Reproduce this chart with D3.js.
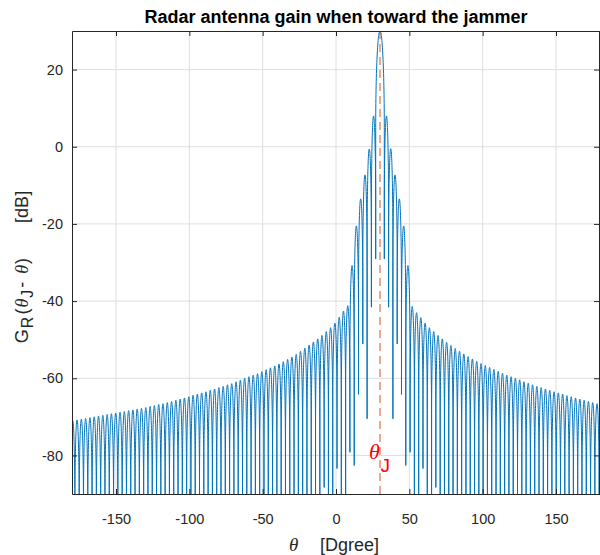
<!DOCTYPE html>
<html>
<head>
<meta charset="utf-8">
<script src="https://cdn.jsdelivr.net/npm/d3@7"></script>
<style>
    body { margin: 0; background: #fff; }
    text { font-family: "Liberation Sans", Arial, Helvetica, sans-serif; }
</style>
</head>
<body>
<svg id="chart"></svg>
<script>
const width = 600, height = 555;
const plot = { left: 72, right: 600, top: 31, bottom: 494 };

// values
const jammerDeg = 30;        // main lobe direction
const mainPeakDb = 30;       // main lobe top
const lobeStepDeg = 2.93;    // null to null spacing of the side lobes

// side lobe tops, counted outward from the main lobe
const leftPeakDb = [8.0, -0.6, -7.3, -13.5, -20.5, -30.8, -41.2, -42.6, -44.2, -45.7,
    -46.9, -47.9, -48.9, -49.8, -50.6, -51.4, -52.2, -53.0, -53.8, -54.5,
    -55.1, -55.7, -56.3, -56.8, -57.3, -57.8, -58.3, -58.8, -59.2, -59.6,
    -60.0, -60.5, -60.9, -61.4, -61.7, -62.1, -62.4, -62.8, -63.1, -63.5,
    -63.8, -64.1, -64.4, -64.8, -65.1, -65.4, -65.7, -66.0, -66.3, -66.6,
    -66.8, -67.1, -67.3, -67.6, -67.8, -68.0, -68.2, -68.4, -68.6, -68.8,
    -69.0, -69.2, -69.4, -69.6, -69.8, -70.0, -70.2, -70.4, -70.6, -70.8,
    -71.0, -71.2];
const rightPeakDb = [8.0, -0.5, -7.3, -13.5, -20.5, -30.8, -41.4, -43.0, -44.3, -45.7,
    -46.9, -47.9, -48.9, -49.8, -50.7, -51.5, -52.3, -53.0, -53.7, -54.4,
    -55.0, -55.6, -56.2, -56.7, -57.2, -57.7, -58.2, -58.7, -59.2, -59.6,
    -60.0, -60.4, -60.9, -61.3, -61.7, -62.1, -62.4, -62.8, -63.1, -63.5,
    -63.8, -64.1, -64.5, -64.8, -65.1, -65.4, -65.7, -66.0, -66.3, -66.6,
    -66.8];
// depth of the nulls that stay above the axis floor (null = below -90)
const nullDepthDb = [-29.1, -41.6, -70.5, -51.1, -64.2, -82.6, -79.2, null, null, -83.4,
    null, null, -88.3];

const xTicks = [-150, -100, -50, 0, 50, 100, 150];
const yTicks = [-80, -60, -40, -20, 0, 20];

const x = d3.scaleLinear().domain([-180, 180]).range([plot.left, plot.right]);
const y = d3.scaleLinear().domain([-90, 30]).range([plot.bottom, plot.top]);

const svg = d3.select("#chart")
    .attr("width", width)
    .attr("height", height);

svg.append("rect").attr("width", width).attr("height", height).attr("fill", "#fff");

svg.append("clipPath").attr("id", "clip")
    .append("rect")
    .attr("x", plot.left).attr("y", plot.top)
    .attr("width", plot.right - plot.left).attr("height", plot.bottom - plot.top);

// grid
const grid = svg.append("g").attr("stroke", "#dedede").attr("stroke-width", 1);
grid.selectAll(".vx").data(xTicks).join("line")
    .attr("x1", d => x(d)).attr("x2", d => x(d))
    .attr("y1", plot.top).attr("y2", plot.bottom);
grid.selectAll(".hy").data(yTicks).join("line")
    .attr("x1", plot.left).attr("x2", plot.right)
    .attr("y1", d => y(d)).attr("y2", d => y(d));

// lobes, left to right
function nullDb(k) {
    const v = nullDepthDb[k - 1];
    return v == null ? -96 : v;
}
const lobes = [];
for (let k = leftPeakDb.length; k >= 1; k--) {
    lobes.push({ from: jammerDeg - lobeStepDeg * (k + 1), to: jammerDeg - lobeStepDeg * k,
        peak: leftPeakDb[k - 1], dL: nullDb(k + 1), dR: nullDb(k) });
}
lobes.push({ from: jammerDeg - lobeStepDeg, to: jammerDeg + lobeStepDeg,
    peak: mainPeakDb, dL: nullDb(1), dR: nullDb(1) });
for (let k = 1; k <= rightPeakDb.length; k++) {
    lobes.push({ from: jammerDeg + lobeStepDeg * k, to: jammerDeg + lobeStepDeg * (k + 1),
        peak: rightPeakDb[k - 1], dL: nullDb(k), dR: nullDb(k + 1) });
}

const archDb = 25; // how far down the rounded top of a lobe reaches
const kappa = 0.5523;
const p = d3.path();
lobes.forEach((lb, i) => {
    const xL = x(lb.from), xR = x(lb.to), xc = (xL + xR) / 2;
    const base = Math.max(lb.peak - archDb, lb.dL, lb.dR);
    const yb = y(base), yp = y(lb.peak);
    const rx = xc - xL, ry = yb - yp;
    if (i === 0) p.moveTo(xL, y(lb.dL));
    p.lineTo(xL, yb);
    p.bezierCurveTo(xL, yb - kappa * ry, xc - kappa * rx, yp, xc, yp);
    p.bezierCurveTo(xc + kappa * rx, yp, xR, yb - kappa * ry, xR, yb);
    p.lineTo(xR, y(lb.dR));
});

svg.append("path")
    .attr("clip-path", "url(#clip)")
    .attr("d", p.toString())
    .attr("fill", "none")
    .attr("stroke", "#0072BD")
    .attr("stroke-width", 1);

// jammer direction
svg.append("line")
    .attr("x1", x(jammerDeg)).attr("x2", x(jammerDeg))
    .attr("y1", plot.top).attr("y2", plot.bottom)
    .attr("stroke", "#D95319")
    .attr("stroke-width", 1)
    .attr("stroke-dasharray", "8,5");

// axes, ticks inside
const axisColor = "#262626";
const plainNum = d => String(d); // hyphen minus like the original
function styleAxis(g) {
    g.selectAll("path").attr("stroke", axisColor);
    g.selectAll("line").attr("stroke", axisColor);
    g.selectAll("text").attr("fill", axisColor).style("font-size", "14.5px").attr("font-family", null);
}
svg.append("g").attr("transform", `translate(0,${plot.bottom})`)
    .call(d3.axisBottom(x).tickValues(xTicks).tickSize(-5).tickSizeOuter(0).tickPadding(20).tickFormat(plainNum))
    .call(styleAxis);
svg.append("g").attr("transform", `translate(0,${plot.top})`)
    .call(d3.axisTop(x).tickValues(xTicks).tickSize(-5).tickSizeOuter(0).tickFormat(""))
    .call(styleAxis);
svg.append("g").attr("transform", `translate(${plot.left},0)`)
    .call(d3.axisLeft(y).tickValues(yTicks).tickSize(-5).tickSizeOuter(0).tickPadding(9).tickFormat(plainNum))
    .call(styleAxis);
svg.append("g").attr("transform", `translate(${plot.right - 1},0)`)
    .call(d3.axisRight(y).tickValues(yTicks).tickSize(-5).tickSizeOuter(0).tickFormat(""))
    .call(styleAxis);
svg.selectAll(".domain").attr("stroke-width", 1);

// title
svg.append("text")
    .attr("x", (plot.left + plot.right) / 2).attr("y", 23)
    .attr("text-anchor", "middle")
    .style("font-size", "18px").style("font-weight", "bold")
    .attr("fill", "#000")
    .text("Radar antenna gain when toward the jammer");

// x label
const serif = "'Liberation Serif', 'DejaVu Serif', serif";
svg.append("text")
    .attr("x", 289).attr("y", 551)
    .style("font-family", serif).style("font-style", "italic").style("font-size", "19px")
    .attr("fill", axisColor).text("θ");
svg.append("text")
    .attr("x", 320).attr("y", 551)
    .style("font-size", "18px")
    .attr("fill", axisColor).text("[Dgree]");

// y label
const yl = svg.append("text")
    .attr("transform", "translate(28,267) rotate(-90)")
    .attr("text-anchor", "middle")
    .style("font-size", "18px")
    .attr("fill", axisColor);
yl.append("tspan").text("G");
yl.append("tspan").attr("dx", 1).attr("dy", 5).style("font-size", "16px").text("R");
yl.append("tspan").attr("dx", 2).attr("dy", -5).text("(");
yl.append("tspan").attr("dx", 1).style("font-family", serif).style("font-style", "italic").text("θ");
yl.append("tspan").attr("dx", 1).attr("dy", 5).style("font-size", "16px").text("J");
yl.append("tspan").attr("dx", 2).attr("dy", -5).text("-\u00a0");
yl.append("tspan").attr("dx", 3).style("font-family", serif).style("font-style", "italic").text("θ");
yl.append("tspan").attr("dx", 1).text(")\u00a0\u00a0\u00a0\u00a0\u00a0\u00a0\u00a0[dB]");

// jammer label
svg.append("text")
    .attr("x", 369).attr("y", 459)
    .style("font-family", serif).style("font-style", "italic").style("font-size", "22px")
    .attr("fill", "#FF0000").text("θ");
svg.append("text")
    .attr("x", 380.5).attr("y", 471.5)
    .style("font-size", "19px")
    .attr("fill", "#FF0000").text("J");
</script>
</body>
</html>
